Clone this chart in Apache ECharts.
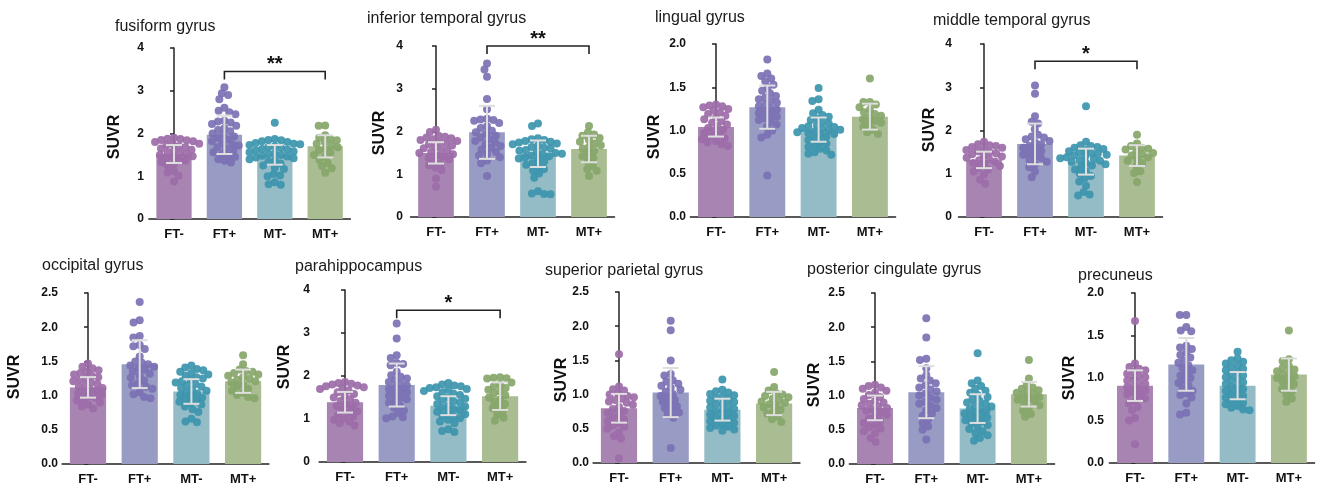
<!DOCTYPE html>
<html>
<head>
<meta charset="utf-8">
<title>SUVR by region</title>
<script src="https://cdn.jsdelivr.net/npm/echarts@6/dist/echarts.min.js"></script>
<style>
  html, body { margin: 0; padding: 0; background: #fff; }
  #chart { width: 1317px; height: 486px; }
</style>
</head>
<body>
<div id="chart"></div>
<script>
// groups and regions
var groups = ['FT-', 'FT+', 'MT-', 'MT+']
var regions = ['fusiform gyrus', 'inferior temporal gyrus', 'lingual gyrus', 'middle temporal gyrus',
    'occipital gyrus', 'parahippocampus', 'superior parietal gyrus', 'posterior cingulate gyrus', 'precuneus']
var yMax = [4, 4, 2, 4, 2.5, 4, 2.5, 2.5, 2]
var yStep = [1, 1, 0.5, 1, 0.5, 1, 0.5, 0.5, 0.5]

// bar heights (mean) and error bars (SD), one row per region
var means = [
    [1.52, 1.97, 1.50, 1.70],
    [1.50, 1.98, 1.48, 1.59],
    [1.04, 1.27, 1.01, 1.16],
    [1.32, 1.69, 1.28, 1.42],
    [1.12, 1.46, 1.06, 1.21],
    [1.39, 1.79, 1.31, 1.53],
    [0.80, 1.03, 0.78, 0.87],
    [0.82, 1.05, 0.81, 1.02],
    [0.91, 1.16, 0.91, 1.04]
]
var sds = [
    [0.21, 0.45, 0.23, 0.26],
    [0.25, 0.62, 0.31, 0.31],
    [0.11, 0.25, 0.14, 0.15],
    [0.19, 0.47, 0.30, 0.24],
    [0.15, 0.35, 0.18, 0.17],
    [0.24, 0.50, 0.22, 0.32],
    [0.21, 0.36, 0.16, 0.17],
    [0.18, 0.38, 0.21, 0.18],
    [0.18, 0.31, 0.16, 0.19]
]

// individual subjects, per region: [FT-, FT+, MT-, MT+]
var fusiformPts = [
    [1.90, 1.88, 1.87, 1.85, 1.84, 1.82, 1.80, 1.78, 1.76, 1.75, 1.73, 1.70, 1.68, 1.65, 1.62, 1.60, 1.57, 1.55, 1.52, 1.50, 1.47, 1.45, 1.42, 1.40, 1.37, 1.33, 1.28, 1.25, 1.12, 1.09, 1.01, 0.88],
    [3.08, 2.94, 2.90, 2.80, 2.60, 2.53, 2.50, 2.45, 2.30, 2.28, 2.26, 2.22, 2.18, 2.12, 2.08, 2.05, 2.00, 1.97, 1.93, 1.90, 1.86, 1.82, 1.78, 1.75, 1.72, 1.68, 1.65, 1.60, 1.56, 1.52, 1.48, 1.45, 1.40, 1.36, 1.32],
    [2.25, 1.87, 1.85, 1.84, 1.82, 1.80, 1.78, 1.76, 1.75, 1.73, 1.70, 1.68, 1.66, 1.64, 1.62, 1.60, 1.58, 1.56, 1.54, 1.52, 1.50, 1.48, 1.46, 1.44, 1.42, 1.40, 1.37, 1.34, 1.30, 1.25, 1.20, 1.17, 1.05, 1.02, 1.00, 0.86, 0.81, 0.80],
    [2.19, 2.18, 1.96, 1.90, 1.87, 1.84, 1.80, 1.76, 1.72, 1.68, 1.64, 1.60, 1.55, 1.50, 1.45, 1.38, 1.31, 1.24, 1.19, 1.08]
]
var inferiorTemporalPts = [
    [2.04, 1.99, 1.90, 1.88, 1.86, 1.84, 1.82, 1.80, 1.78, 1.75, 1.72, 1.70, 1.67, 1.64, 1.61, 1.58, 1.55, 1.52, 1.50, 1.47, 1.44, 1.41, 1.38, 1.35, 1.30, 1.25, 1.21, 1.15, 1.10, 0.90, 0.71],
    [3.59, 3.45, 3.28, 2.76, 2.52, 2.30, 2.28, 2.27, 2.25, 2.20, 2.12, 2.08, 2.02, 1.98, 1.95, 1.90, 1.86, 1.82, 1.78, 1.74, 1.70, 1.66, 1.62, 1.58, 1.52, 1.48, 1.44, 1.40, 1.32, 1.26, 0.96],
    [2.19, 2.13, 1.84, 1.82, 1.80, 1.78, 1.76, 1.74, 1.72, 1.70, 1.67, 1.64, 1.62, 1.60, 1.57, 1.55, 1.52, 1.50, 1.48, 1.46, 1.44, 1.42, 1.40, 1.37, 1.34, 1.30, 1.26, 1.22, 1.18, 1.12, 1.08, 1.02, 0.92, 0.60, 0.55, 0.54, 0.53],
    [2.13, 1.98, 1.93, 1.90, 1.85, 1.80, 1.76, 1.72, 1.68, 1.64, 1.60, 1.55, 1.48, 1.42, 1.38, 1.30, 1.20, 1.12, 1.08, 0.96]
]
var lingualPts = [
    [1.30, 1.29, 1.28, 1.27, 1.25, 1.23, 1.21, 1.19, 1.17, 1.15, 1.13, 1.11, 1.09, 1.07, 1.05, 1.03, 1.01, 0.99, 0.97, 0.95, 0.93, 0.91, 0.90, 0.88, 0.86, 0.84, 0.82],
    [1.82, 1.66, 1.63, 1.60, 1.57, 1.53, 1.50, 1.46, 1.43, 1.40, 1.38, 1.36, 1.34, 1.32, 1.30, 1.28, 1.26, 1.24, 1.22, 1.20, 1.18, 1.16, 1.14, 1.12, 1.10, 1.07, 1.04, 1.00, 0.95, 0.92, 0.48],
    [1.49, 1.36, 1.34, 1.24, 1.20, 1.18, 1.16, 1.14, 1.12, 1.10, 1.08, 1.06, 1.05, 1.04, 1.03, 1.02, 1.01, 1.00, 0.99, 0.98, 0.97, 0.96, 0.95, 0.93, 0.91, 0.89, 0.87, 0.85, 0.83, 0.81, 0.79, 0.77, 0.75, 0.73, 0.72],
    [1.60, 1.33, 1.33, 1.30, 1.27, 1.24, 1.21, 1.19, 1.17, 1.15, 1.13, 1.11, 1.09, 1.07, 1.04, 1.01, 0.98, 0.96]
]
var middleTemporalPts = [
    [1.74, 1.68, 1.66, 1.64, 1.62, 1.60, 1.57, 1.55, 1.52, 1.50, 1.47, 1.45, 1.42, 1.40, 1.37, 1.34, 1.31, 1.28, 1.25, 1.22, 1.18, 1.14, 1.10, 1.05, 0.98, 0.86, 0.77],
    [3.04, 2.85, 2.33, 2.20, 2.16, 2.03, 1.90, 1.86, 1.84, 1.80, 1.76, 1.72, 1.68, 1.64, 1.60, 1.56, 1.52, 1.48, 1.44, 1.40, 1.36, 1.32, 1.28, 1.22, 1.15, 1.05, 0.92],
    [2.56, 1.74, 1.66, 1.64, 1.62, 1.60, 1.57, 1.55, 1.52, 1.50, 1.48, 1.46, 1.44, 1.42, 1.40, 1.38, 1.36, 1.34, 1.32, 1.30, 1.28, 1.25, 1.22, 1.19, 1.15, 1.10, 1.05, 1.00, 0.95, 0.90, 0.82, 0.72, 0.58, 0.52, 0.50],
    [1.90, 1.70, 1.64, 1.60, 1.58, 1.56, 1.52, 1.48, 1.45, 1.42, 1.38, 1.34, 1.30, 1.25, 1.18, 1.06, 1.02, 0.81]
]
var occipitalPts = [
    [1.47, 1.42, 1.40, 1.37, 1.35, 1.33, 1.31, 1.29, 1.27, 1.25, 1.23, 1.21, 1.19, 1.17, 1.15, 1.13, 1.11, 1.09, 1.07, 1.05, 1.03, 1.01, 0.99, 0.97, 0.95, 0.93, 0.90, 0.87, 0.84, 0.81],
    [2.37, 2.10, 2.07, 1.87, 1.85, 1.74, 1.72, 1.68, 1.57, 1.50, 1.48, 1.46, 1.44, 1.42, 1.40, 1.38, 1.35, 1.32, 1.29, 1.26, 1.22, 1.18, 1.15, 1.13, 1.10, 1.05, 1.02, 0.98, 0.96],
    [1.44, 1.41, 1.39, 1.37, 1.35, 1.33, 1.31, 1.29, 1.27, 1.25, 1.23, 1.21, 1.19, 1.17, 1.15, 1.13, 1.11, 1.09, 1.07, 1.05, 1.03, 1.01, 0.99, 0.97, 0.95, 0.93, 0.91, 0.89, 0.87, 0.84, 0.80, 0.76, 0.66, 0.62, 0.61],
    [1.59, 1.46, 1.38, 1.36, 1.35, 1.33, 1.31, 1.29, 1.27, 1.25, 1.23, 1.21, 1.19, 1.16, 1.13, 1.10, 1.07, 1.04, 1.01, 0.98, 0.96]
]
var parahippocampusPts = [
    [1.86, 1.84, 1.82, 1.80, 1.78, 1.76, 1.74, 1.72, 1.70, 1.66, 1.62, 1.58, 1.54, 1.50, 1.46, 1.42, 1.38, 1.34, 1.30, 1.26, 1.22, 1.18, 1.14, 1.10, 1.06, 1.02, 0.98, 0.94, 0.90, 0.85],
    [3.22, 2.87, 2.48, 2.42, 2.30, 2.28, 2.25, 2.10, 2.02, 1.98, 1.94, 1.90, 1.86, 1.82, 1.78, 1.74, 1.70, 1.66, 1.62, 1.58, 1.54, 1.50, 1.46, 1.42, 1.38, 1.32, 1.26, 1.20, 1.14, 1.06, 1.04, 1.02],
    [1.84, 1.80, 1.78, 1.76, 1.74, 1.72, 1.70, 1.68, 1.65, 1.62, 1.59, 1.56, 1.53, 1.50, 1.47, 1.44, 1.41, 1.38, 1.35, 1.32, 1.29, 1.26, 1.23, 1.20, 1.17, 1.14, 1.11, 1.08, 1.05, 1.02, 0.98, 0.94, 0.90, 0.76, 0.72, 0.70],
    [1.97, 1.96, 1.95, 1.94, 1.85, 1.80, 1.76, 1.72, 1.68, 1.64, 1.60, 1.55, 1.50, 1.45, 1.40, 1.35, 1.30, 1.25, 1.18, 1.10, 1.03, 0.96]
]
var superiorParietalPts = [
    [1.59, 1.12, 1.08, 1.06, 1.02, 1.00, 0.98, 0.96, 0.94, 0.92, 0.90, 0.88, 0.85, 0.82, 0.79, 0.76, 0.73, 0.70, 0.67, 0.64, 0.61, 0.58, 0.55, 0.53, 0.50, 0.45, 0.39, 0.36, 0.07],
    [2.08, 1.94, 1.50, 1.30, 1.28, 1.21, 1.19, 1.16, 1.13, 1.10, 1.07, 1.04, 1.01, 0.98, 0.95, 0.92, 0.89, 0.86, 0.83, 0.80, 0.77, 0.74, 0.70, 0.66, 0.22],
    [1.22, 1.07, 1.05, 1.03, 1.01, 0.99, 0.97, 0.95, 0.93, 0.91, 0.89, 0.87, 0.85, 0.83, 0.81, 0.79, 0.77, 0.75, 0.73, 0.71, 0.69, 0.67, 0.65, 0.63, 0.61, 0.59, 0.57, 0.55, 0.53, 0.51, 0.49, 0.47],
    [1.33, 1.11, 1.06, 1.02, 1.00, 0.98, 0.96, 0.94, 0.92, 0.90, 0.88, 0.86, 0.84, 0.81, 0.78, 0.75, 0.72, 0.68, 0.64, 0.60]
]
var posteriorCingulatePts = [
    [1.16, 1.14, 1.12, 1.10, 1.07, 1.04, 1.01, 0.98, 0.95, 0.92, 0.90, 0.88, 0.86, 0.84, 0.82, 0.80, 0.78, 0.75, 0.72, 0.69, 0.66, 0.63, 0.60, 0.57, 0.54, 0.52, 0.48, 0.45, 0.38, 0.32],
    [2.13, 1.85, 1.54, 1.52, 1.40, 1.30, 1.25, 1.22, 1.18, 1.15, 1.12, 1.09, 1.06, 1.03, 1.00, 0.97, 0.94, 0.91, 0.88, 0.85, 0.82, 0.78, 0.74, 0.70, 0.65, 0.60, 0.55, 0.50, 0.36],
    [1.62, 1.22, 1.18, 1.14, 1.10, 1.07, 1.04, 1.01, 0.98, 0.95, 0.92, 0.90, 0.88, 0.86, 0.84, 0.82, 0.80, 0.78, 0.76, 0.74, 0.72, 0.70, 0.68, 0.66, 0.64, 0.62, 0.60, 0.57, 0.54, 0.51, 0.48, 0.45, 0.42, 0.38, 0.34],
    [1.52, 1.25, 1.16, 1.12, 1.10, 1.08, 1.06, 1.04, 1.02, 1.00, 0.98, 0.96, 0.94, 0.92, 0.89, 0.86, 0.82, 0.78, 0.73, 0.69]
]
var precuneusPts = [
    [1.67, 1.17, 1.13, 1.11, 1.09, 1.07, 1.05, 1.03, 1.01, 0.99, 0.97, 0.95, 0.93, 0.91, 0.89, 0.87, 0.85, 0.83, 0.81, 0.79, 0.76, 0.73, 0.70, 0.66, 0.62, 0.53, 0.50, 0.22],
    [1.74, 1.74, 1.60, 1.56, 1.55, 1.38, 1.36, 1.34, 1.30, 1.27, 1.24, 1.21, 1.18, 1.15, 1.12, 1.09, 1.06, 1.03, 1.00, 0.97, 0.94, 0.91, 0.88, 0.85, 0.82, 0.80, 0.77, 0.70, 0.59, 0.57],
    [1.31, 1.23, 1.21, 1.19, 1.17, 1.15, 1.13, 1.11, 1.09, 1.07, 1.05, 1.03, 1.01, 0.99, 0.97, 0.95, 0.93, 0.91, 0.89, 0.87, 0.85, 0.83, 0.81, 0.79, 0.77, 0.75, 0.73, 0.71, 0.69, 0.67, 0.65, 0.63, 0.62],
    [1.56, 1.22, 1.20, 1.14, 1.12, 1.10, 1.08, 1.06, 1.04, 1.02, 1.00, 0.98, 0.96, 0.93, 0.90, 0.87, 0.84, 0.80, 0.76, 0.72]
]
var points = [fusiformPts, inferiorTemporalPts, lingualPts, middleTemporalPts, occipitalPts,
    parahippocampusPts, superiorParietalPts, posteriorCingulatePts, precuneusPts]

// significance brackets: panel, from group, to group, height (SUVR), label
var bracketPanel = [0, 1, 3, 5]
var bracketFrom = [1, 1, 1, 1]
var bracketTo = [3, 3, 3, 3]
var bracketY = [3.45, 4.0, 3.6, 3.53]
var bracketLabel = ['**', '**', '*', '*']

// colours
var barColors = ['#a884b2', '#989bc4', '#94bcc6', '#aabc92']
var dotColors = ['#9c6ca8', '#7b71b4', '#3c95ae', '#87a66a']
var font = 'Arial, "Liberation Sans", sans-serif'

// panel layout (pixels)
var layout = [
    { axisX: 149, c0: 174, sp: 50.4, top: 48, bottom: 219, tx: 115, ty: 19, lx: 115, ly: 137 },
    { axisX: 408, c0: 436, sp: 51, top: 46, bottom: 217, tx: 367, ty: 11, lx: 380, ly: 133 },
    { axisX: 691, c0: 716, sp: 51.3, top: 44, bottom: 217, tx: 655, ty: 10, lx: 655, ly: 137 },
    { axisX: 957, c0: 984, sp: 51, top: 44, bottom: 217, tx: 933, ty: 13, lx: 930, ly: 130 },
    { axisX: 63, c0: 88, sp: 51.7, top: 293, bottom: 464, tx: 42, ty: 258, lx: 15, ly: 377 },
    { axisX: 315, c0: 345, sp: 51.7, top: 290, bottom: 462, tx: 295, ty: 259, lx: 285, ly: 367 },
    { axisX: 594, c0: 619, sp: 51.7, top: 292, bottom: 463, tx: 545, ty: 263, lx: 562, ly: 380 },
    { axisX: 850, c0: 875, sp: 51.3, top: 293, bottom: 464, tx: 807, ty: 262, lx: 815, ly: 385 },
    { axisX: 1109, c0: 1135, sp: 51.3, top: 293, bottom: 463, tx: 1078, ty: 268, lx: 1070, ly: 378 }
]

// simple beeswarm: horizontal offsets (px) so dots don't pile up
function swarm(vals, ppu, sep) {
    var order = vals.map(function(v, i) { return i }).sort(function(a, b) { return vals[b] - vals[a] })
    var placed = []
    var xs = []
    order.forEach(function(i) {
        var y = vals[i] * ppu
        var forb = []
        placed.forEach(function(p) {
            var dy = Math.abs(p.y - y)
            if (dy < sep) {
                var dx = Math.sqrt(sep * sep - dy * dy)
                forb.push([p.x - dx, p.x + dx])
            }
        })
        var cands = [0]
        forb.forEach(function(f) { cands.push(f[0], f[1]) })
        cands.sort(function(a, b) { return Math.abs(a) - Math.abs(b) || a - b })
        var x = 0
        for (var k = 0; k < cands.length; k++) {
            var c = cands[k]
            var ok = forb.every(function(f) { return c <= f[0] + 1e-6 || c >= f[1] - 1e-6 })
            if (ok) { x = c; break }
        }
        placed.push({ x: x, y: y })
        xs[i] = x
    })
    return xs
}

var axisColor = '#222'
var grid = [], xAxis = [], yAxis = [], series = [], title = [], graphic = []

layout.forEach(function(L, p) {
    var left = L.c0 - L.sp / 2
    var height = L.bottom - L.top
    grid.push({ left: left, top: L.top, width: L.sp * 4, height: height })
    title.push({
        text: regions[p], left: L.tx, top: L.ty, padding: 0,
        textStyle: { fontFamily: font, fontSize: 16, fontWeight: 'normal', color: '#1a1a1a' }
    })
    graphic.push({
        type: 'text', x: L.lx, y: L.ly, rotation: Math.PI / 2,
        style: { text: 'SUVR', font: 'bold 16px ' + font, fill: '#111', textAlign: 'center', textVerticalAlign: 'middle' }
    })
    xAxis.push({
        type: 'category', gridIndex: p, data: groups,
        axisLine: { lineStyle: { color: axisColor, width: 1.5 } },
        axisTick: { alignWithLabel: true, length: 4, lineStyle: { color: axisColor, width: 1.5 } },
        axisLabel: { fontFamily: font, fontSize: 13, fontWeight: 'bold', color: '#111', margin: 9 }
    })
    xAxis.push({ type: 'value', gridIndex: p, min: -0.5, max: 3.5, show: false })
    var step = yStep[p]
    yAxis.push({
        type: 'value', gridIndex: p, min: 0, max: yMax[p], interval: step,
        offset: left - L.axisX,
        axisLine: { show: true, lineStyle: { color: axisColor, width: 1.5 } },
        axisTick: { show: true, length: 4, lineStyle: { color: axisColor, width: 1.5 } },
        splitLine: { show: false },
        axisLabel: {
            fontFamily: font, fontSize: 12, fontWeight: 'bold', color: '#111', margin: 5,
            formatter: function(v) { return step < 1 ? v.toFixed(1) : String(v) }
        }
    })

    // bars
    series.push({
        type: 'bar', xAxisIndex: 2 * p, yAxisIndex: p, barWidth: '70%', z: 1,
        data: means[p].map(function(m, i) { return { value: m, itemStyle: { color: barColors[i] } } }),
        silent: true
    })

    // dots
    var ppu = height / yMax[p]
    var dots = []
    points[p].forEach(function(vals, g) {
        var xs = swarm(vals, ppu, 6.5)
        vals.forEach(function(v, k) {
            dots.push({ value: [g + xs[k] / L.sp, v], itemStyle: { color: dotColors[g] } })
        })
    })
    series.push({
        type: 'scatter', xAxisIndex: 2 * p + 1, yAxisIndex: p, symbolSize: 8, z: 2,
        itemStyle: { opacity: 0.92 }, data: dots, silent: true
    })

    // error bars (mean +/- SD)
    series.push({
        type: 'custom', xAxisIndex: 2 * p + 1, yAxisIndex: p, z: 3, silent: true,
        data: means[p].map(function(m, i) { return [i, m, sds[p][i]] }),
        renderItem: function(params, api) {
            var i = api.value(0), m = api.value(1), s = api.value(2)
            var hi = api.coord([i, m + s]), lo = api.coord([i, m - s])
            var cap = 8
            var st = { stroke: '#dedede', lineWidth: 2 }
            return {
                type: 'group', children: [
                    { type: 'line', shape: { x1: hi[0], y1: hi[1], x2: lo[0], y2: lo[1] }, style: st },
                    { type: 'line', shape: { x1: hi[0] - cap, y1: hi[1], x2: hi[0] + cap, y2: hi[1] }, style: st },
                    { type: 'line', shape: { x1: lo[0] - cap, y1: lo[1], x2: lo[0] + cap, y2: lo[1] }, style: st }
                ]
            }
        },
        encode: { x: 0, y: 1 }
    })
})

// significance brackets
bracketPanel.forEach(function(p, b) {
    series.push({
        type: 'custom', xAxisIndex: 2 * p + 1, yAxisIndex: p, z: 4, silent: true,
        data: [[bracketFrom[b], bracketTo[b], bracketY[b]]],
        renderItem: function(params, api) {
            var a = api.coord([api.value(0), api.value(2)])
            var c = api.coord([api.value(1), api.value(2)])
            return {
                type: 'group', children: [
                    {
                        type: 'polyline',
                        shape: { points: [[a[0], a[1] + 8], [a[0], a[1]], [c[0], a[1]], [c[0], a[1] + 8]] },
                        style: { stroke: '#222', lineWidth: 1.6, fill: null }
                    },
                    {
                        type: 'text',
                        style: {
                            text: bracketLabel[b], x: (a[0] + c[0]) / 2, y: a[1] - 7,
                            font: 'bold 20px ' + font, fill: '#111', textAlign: 'center', textVerticalAlign: 'middle'
                        }
                    }
                ]
            }
        },
        encode: { x: 0, y: 2 }
    })
})

var chart = echarts.init(document.getElementById('chart'))
chart.setOption({
    animation: false,
    backgroundColor: '#fff',
    title: title,
    grid: grid,
    xAxis: xAxis,
    yAxis: yAxis,
    series: series,
    graphic: graphic
})
</script>
</body>
</html>
